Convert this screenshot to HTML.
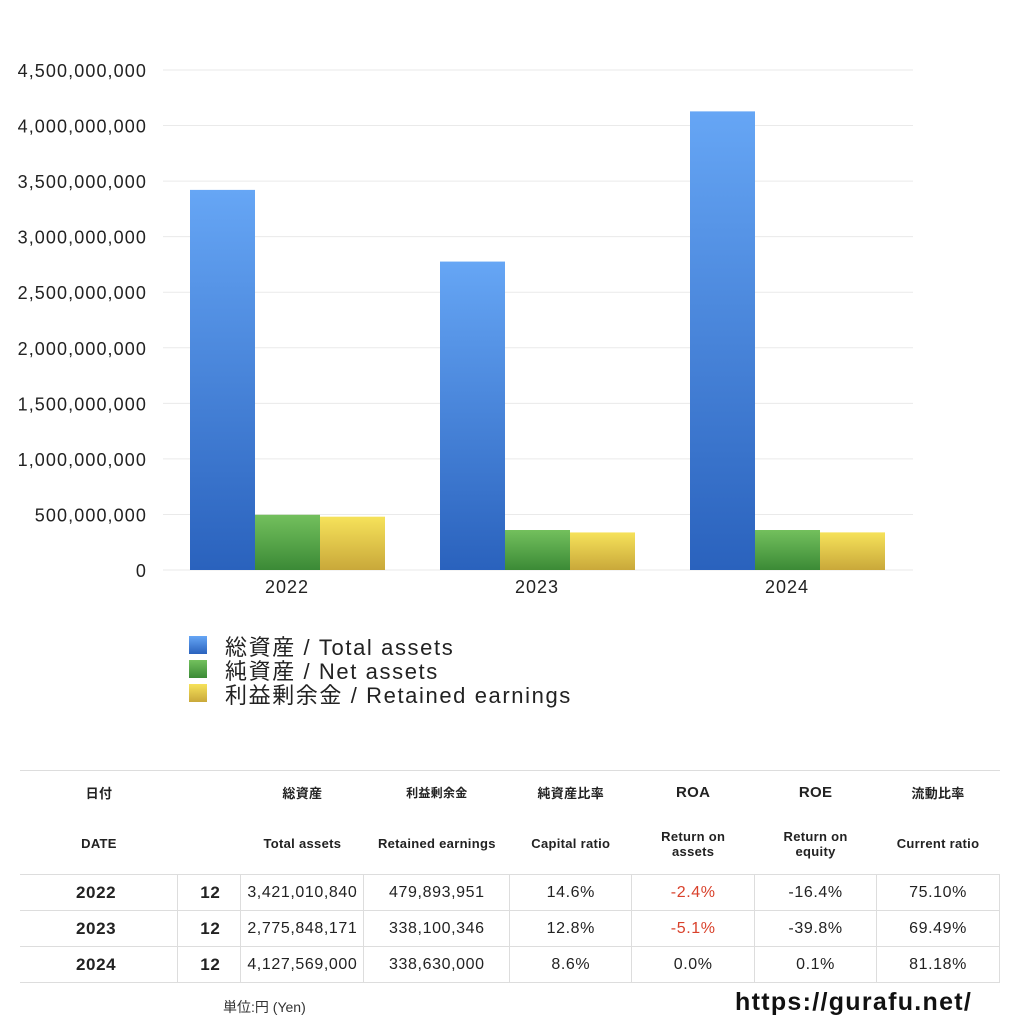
<!DOCTYPE html>
<html><head><meta charset="utf-8"><style>
body{margin:0;width:1024px;height:1024px;background:#fff;font-family:"Liberation Sans","Noto Sans CJK JP",sans-serif;overflow:hidden;position:relative}
svg{position:absolute;left:0;top:0}
table{position:absolute;left:20px;top:770px;width:980px;border-collapse:collapse;font-size:16px;color:#222;letter-spacing:0.6px}
td{text-align:center;padding:0}
.h1 td{height:42px;font-size:13px;font-weight:bold;letter-spacing:0.3px}
.h2 td{height:61px;font-size:13px;font-weight:bold;border-bottom:1px solid #ddd;letter-spacing:0.3px}
.d td{height:35px;border:1px solid #ddd}
.d td.yr{font-weight:bold;font-size:17px;border-left:none;text-align:left;padding-left:56px}
.d td.mo{font-weight:bold;font-size:17px;text-align:right;padding-right:20px}
.red{color:#d9412b}
</style></head><body>
<svg id="chart" width="1024" height="760">
<defs>
<linearGradient id="gb" x1="0" y1="0" x2="0" y2="1"><stop offset="0" stop-color="#66a6f5"/><stop offset="1" stop-color="#2a62bd"/></linearGradient>
<linearGradient id="gg" x1="0" y1="0" x2="0" y2="1"><stop offset="0" stop-color="#73c05d"/><stop offset="1" stop-color="#3b8a36"/></linearGradient>
<linearGradient id="gy" x1="0" y1="0" x2="0" y2="1"><stop offset="0" stop-color="#f6e25a"/><stop offset="1" stop-color="#c9a83a"/></linearGradient>
</defs>
<g id="grid"></g><g id="bars"></g><g id="labels"></g>
<g font-size="22" fill="#222" letter-spacing="1.6">
<rect x="189" y="636" width="18" height="18" fill="url(#gb)"/><text x="225" y="655">総資産 / Total assets</text>
<rect x="189" y="660" width="18" height="18" fill="url(#gg)"/><text x="225" y="679">純資産 / Net assets</text>
<rect x="189" y="684" width="18" height="18" fill="url(#gy)"/><text x="225" y="703">利益剰余金 / Retained earnings</text>
</g>
</svg>
<script>
const categories=["2022","2023","2024"];
const totalAssets=[3421010840,2775848171,4127569000];
const netAssets=[497000000,360000000,360000000];
const retained=[479893951,338100346,338630000];
const ticks=[0,500000000,1000000000,1500000000,2000000000,2500000000,3000000000,3500000000,4000000000,4500000000];
const NS="http://www.w3.org/2000/svg";
const y=v=>570-v/4.5e9*500;
const xg=i=>162+i*250;
function mk(t,a,p){const e=document.createElementNS(NS,t);for(const k in a)e.setAttribute(k,a[k]);p.appendChild(e);return e;}
const grid=document.getElementById('grid'),bars=document.getElementById('bars'),lab=document.getElementById('labels');
ticks.forEach(t=>{
 const l=mk('line',{x1:163,x2:913,y1:y(t),y2:y(t),stroke:'#eaeaea'},grid);
 
 
 const tx=mk('text',{x:147,y:y(t)+7,'text-anchor':'end','font-size':18,fill:'#222','letter-spacing':1.1},lab);
 tx.textContent=t.toLocaleString('en-US');
 
 
});
const series=[[totalAssets,'url(#gb)','total-assets'],[netAssets,'url(#gg)','net-assets'],[retained,'url(#gy)','retained-earnings']];
categories.forEach((c,i)=>{
 series.forEach((s,j)=>{
  const v=s[0][i];
  const r=mk('rect',{x:xg(i)+28+j*65,y:y(v),width:65,height:570-y(v),fill:s[1]},bars);
  
  
 });
 const tx=mk('text',{x:xg(i)+125,y:593,'text-anchor':'middle','font-size':18,fill:'#222','letter-spacing':1},lab);
 tx.textContent=c;
 
 
});
</script>
<table>
<colgroup><col style="width:158px"><col style="width:63px"><col style="width:123px"><col style="width:146px"><col style="width:122px"><col style="width:123px"><col style="width:122px"><col style="width:123px"></colgroup>
<tr class="h1" style="border-top:1px solid #ddd"><td>日付</td><td></td><td>総資産</td><td style="font-size:12px">利益剰余金</td><td>純資産比率</td><td style="font-size:15px">ROA</td><td style="font-size:15px">ROE</td><td>流動比率</td></tr>
<tr class="h2"><td>DATE</td><td></td><td>Total assets</td><td>Retained earnings</td><td>Capital ratio</td><td>Return on<br>assets</td><td>Return on<br>equity</td><td>Current ratio</td></tr>
<tr class="d"><td class="yr">2022</td><td class="mo">12</td><td>3,421,010,840</td><td>479,893,951</td><td>14.6%</td><td class="red">-2.4%</td><td>-16.4%</td><td>75.10%</td></tr>
<tr class="d"><td class="yr">2023</td><td class="mo">12</td><td>2,775,848,171</td><td>338,100,346</td><td>12.8%</td><td class="red">-5.1%</td><td>-39.8%</td><td>69.49%</td></tr>
<tr class="d"><td class="yr">2024</td><td class="mo">12</td><td>4,127,569,000</td><td>338,630,000</td><td>8.6%</td><td>0.0%</td><td>0.1%</td><td>81.18%</td></tr>
</table>
<div style="position:absolute;left:223px;top:997px;font-size:14px;color:#333">単位:円 (Yen)</div>
<div style="position:absolute;left:735px;top:988px;font-size:25px;font-weight:bold;color:#111;letter-spacing:1.3px">https://gurafu.net/</div>
</body></html>
